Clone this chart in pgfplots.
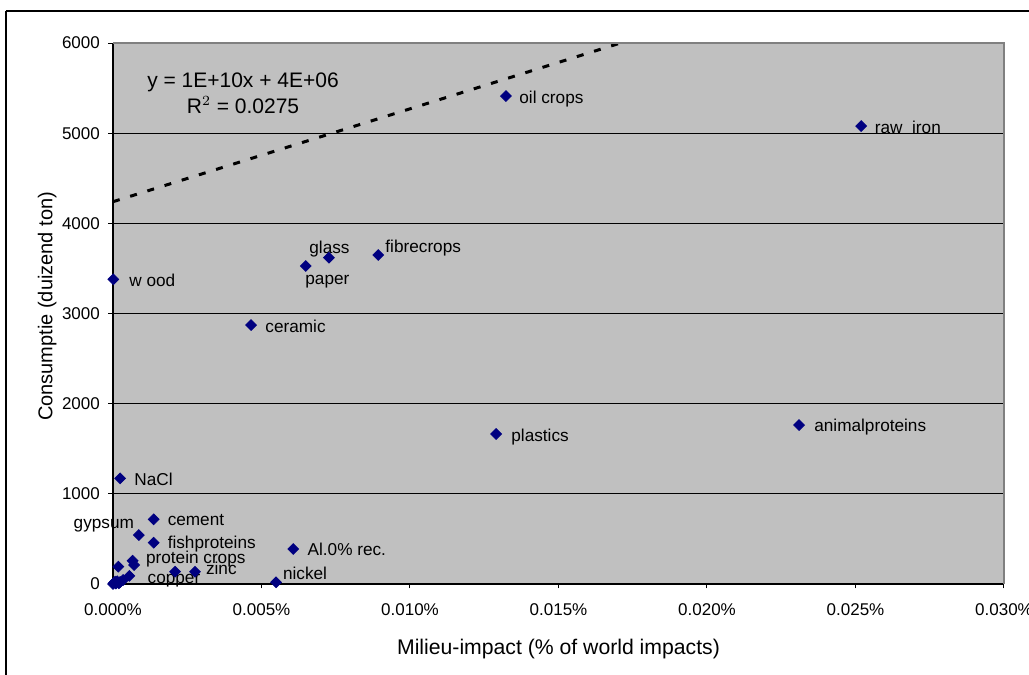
\documentclass[border=0pt]{standalone}
\usepackage{pgfplots}
\pgfplotsset{compat=1.18}
\usepackage{fontspec}
\setmainfont{Liberation Sans}
\definecolor{plotgray}{HTML}{C0C0C0}
\definecolor{ptnavy}{HTML}{000080}
\newcommand{\tickfont}{\fontsize{8.5}{10}\selectfont}
\newcommand{\lblfont}{\fontsize{8.6}{10}\selectfont}
\begin{document}
\begin{tikzpicture}
\useasboundingbox (-56.5pt,-45.5pt) rectangle (458pt,292pt);
\draw[black, line width=0.7pt] (-53.5pt,286.5pt) -- (470pt,286.5pt);
\draw[black, line width=0.7pt] (-53.5pt,286.5pt) -- (-53.5pt,-60pt);
\begin{axis}[
  at={(0,0)}, anchor=south west,
  scale only axis, width=445.5pt, height=270.5pt,
  xmin=0, xmax=0.03, ymin=0, ymax=6000,
  axis background/.style={fill=plotgray},
  axis x line*=bottom, axis y line*=left,
  axis line style={black, line width=0.6pt},
  clip=false,
  xtick={0,0.005,0.01,0.015,0.02,0.025,0.03},
  ytick={0,1000,2000,3000,4000,5000,6000},
  xticklabel={\pgfmathprintnumber[fixed,fixed zerofill,precision=3]{\tick}\%},
  /pgf/number format/assume math mode=true,
  yticklabel={\pgfmathprintnumber[fixed,precision=0,1000 sep={}]{\tick}},
  scaled x ticks=false, scaled y ticks=false,
  tick align=outside, major tick length=2.25pt,
  tick style={black, line width=0.5pt},
  ticklabel style={font=\tickfont},
  xticklabel style={yshift=-4pt},
  yticklabel style={xshift=-0.8pt},
  ymajorgrids, major grid style={black, line width=0.5pt},
  xlabel={Milieu-impact (\% of world impacts)},
  ylabel={Consumptie (duizend ton)},
  xlabel style={font=\fontsize{10.6}{12}\selectfont, at={(axis description cs:0.5,-0.0891)}, anchor=north},
  ylabel style={font=\fontsize{10}{12}\selectfont, at={(axis description cs:-0.0555,0.513)}, anchor=south, rotate=0},
]
\addplot[black, line width=1.5pt, dash pattern=on 3.5pt off 5.5pt] coordinates {(0,4240) (0.017087,6000)};
\addplot[only marks, mark=square*, mark size=1.9pt, mark options={rotate=45, fill=ptnavy, draw=ptnavy}] coordinates {
(0.00001,3379) (0.00649,3527) (0.00727,3619) (0.00893,3649) (0.01323,5412) (0.02519,5079)
(0.00465,2872) (0.0129,1664) (0.0231,1763) (0.00024,1172) (0.00137,717) (0.00087,543)
(0.00137,458) (0.00607,388) (0.00066,258) (0.00071,211) (0.00018,192) (0.00055,90)
(0.00209,136) (0.00276,136) (0.00549,19)
(0,0) (0.00007,26) (0.00024,22) (0.00034,44) (0.0001,5) (0.0002,8) (0.00003,12) (0.00014,30)
};
\begin{scope}[every node/.style={font=\lblfont, inner sep=0pt, anchor=west, text height=0.716em, text depth=0pt}]
\node at (axis cs:0.01367,5412) {oil crops};
\node at (axis cs:0.02564,5079) {raw\ \ iron};
\node at (axis cs:0.0066,3748) {glass};
\node at (axis cs:0.006465,3405) {paper};
\node at (axis cs:0.00916,3760) {fibrecrops};
\node at (axis cs:0.00054,3382) {w ood};
\node at (axis cs:0.00512,2872) {ceramic};
\node at (axis cs:0.0134,1664) {plastics};
\node at (axis cs:0.0236,1774) {animalproteins};
\node at (axis cs:0.000707,1175) {NaCl};
\node at (axis cs:0.00183,724) {cement};
\node at (axis cs:-0.001337,691) {gypsum};
\node at (axis cs:0.00183,469) {fishproteins};
\node at (axis cs:0.0011,303) {protein crops};
\node at (axis cs:0.001155,81) {copper};
\node at (axis cs:0.00312,185) {zinc};
\node at (axis cs:0.005714,125) {nickel};
\node at (axis cs:0.00654,396) {Al.0\% rec.};
\end{scope}
\node[font=\fontsize{10.5}{12.8}\selectfont, align=center, inner sep=0pt] at (axis cs:0.004377,5440) {y = 1E+10x + 4E+06\\R$^{2}$ = 0.0275};
\draw[gray, line width=0.6pt] (rel axis cs:0,1) -- (rel axis cs:1,1) -- (rel axis cs:1,0);
\end{axis}
\end{tikzpicture}
\end{document}
